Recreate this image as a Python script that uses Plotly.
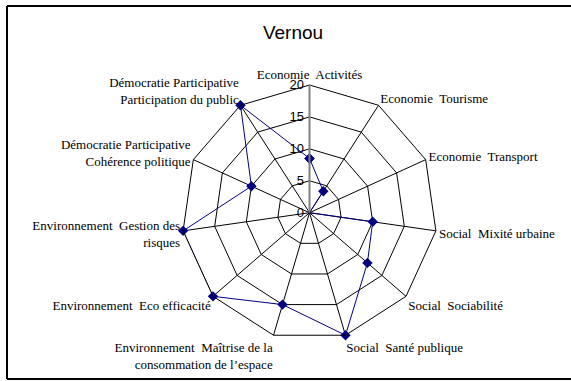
import plotly.graph_objects as go

categories = [
    "Economie  Activités",
    "Economie  Tourisme",
    "Economie  Transport",
    "Social  Mixité urbaine",
    "Social  Sociabilité",
    "Social  Santé publique",
    "Environnement  Maîtrise de la<br>consommation de l’espace",
    "Environnement  Eco efficacité",
    "Environnement  Gestion des<br>risques",
    "Démocratie Participative<br>Cohérence politique",
    "Démocratie Participative<br>Participation du public",
]
values = [8.5, 4, 0, 10, 12, 20, 15, 20, 20, 10, 20]
radial_ticks = [0, 5, 10, 15, 20]

W, H = 571, 381
cx, cy, R = 309.5, 212.7, 127.7

fig = go.Figure()
fig.add_trace(go.Scatterpolar(
    r=values + values[:1],
    theta=categories + categories[:1],
    mode="lines+markers",
    line=dict(color="#000080", width=1),
    marker=dict(symbol="diamond", size=8, color="#000080"),
    showlegend=False,
))

# chart frame: left, top and bottom edges (right edge falls outside the window)
frame = dict(color="black", width=2)
left, top, bottom = 7 / W, 1 - 6 / H, 1 - 379 / H
shapes = [
    dict(type="line", xref="paper", yref="paper", x0=left, x1=left, y0=bottom, y1=top, line=frame),
    dict(type="line", xref="paper", yref="paper", x0=left, x1=1, y0=top, y1=top, line=frame),
    dict(type="line", xref="paper", yref="paper", x0=left, x1=1, y0=bottom, y1=bottom, line=frame),
]

fig.update_layout(
    width=W, height=H,
    margin=dict(l=0, r=0, t=0, b=0),
    paper_bgcolor="white",
    plot_bgcolor="white",
    font=dict(family="Liberation Serif", size=13, color="black"),
    title=dict(text="Vernou", x=293 / W, xanchor="center", y=1 - 32 / H, yanchor="middle",
               font=dict(family="Liberation Sans", size=19, color="black")),
    polar=dict(
        domain=dict(x=[(cx - R) / W, (cx + R) / W], y=[1 - (cy + R) / H, 1 - (cy - R) / H]),
        gridshape="linear",
        bgcolor="white",
        angularaxis=dict(
            direction="clockwise", rotation=90,
            categoryorder="array", categoryarray=categories,
            showline=True, linecolor="black", linewidth=1,
            gridcolor="black", gridwidth=1,
            ticks="", tickfont=dict(family="Liberation Serif", size=13),
        ),
        radialaxis=dict(
            range=[0, 20], tickvals=radial_ticks, angle=90, tickangle=90,
            side="counterclockwise",
            showline=True, linecolor="gray", linewidth=2,
            gridcolor="black", gridwidth=1,
            ticks="", tickfont=dict(family="Liberation Sans", size=13),
        ),
    ),
    shapes=shapes,
)

# page has a default 8px body margin and may scroll; drop both
fig.write_html("out.html", config={"displayModeBar": False},
               post_script="document.body.style.margin='0';"
                           "document.body.style.overflow='hidden';"
                           "document.documentElement.style.overflow='hidden';")
